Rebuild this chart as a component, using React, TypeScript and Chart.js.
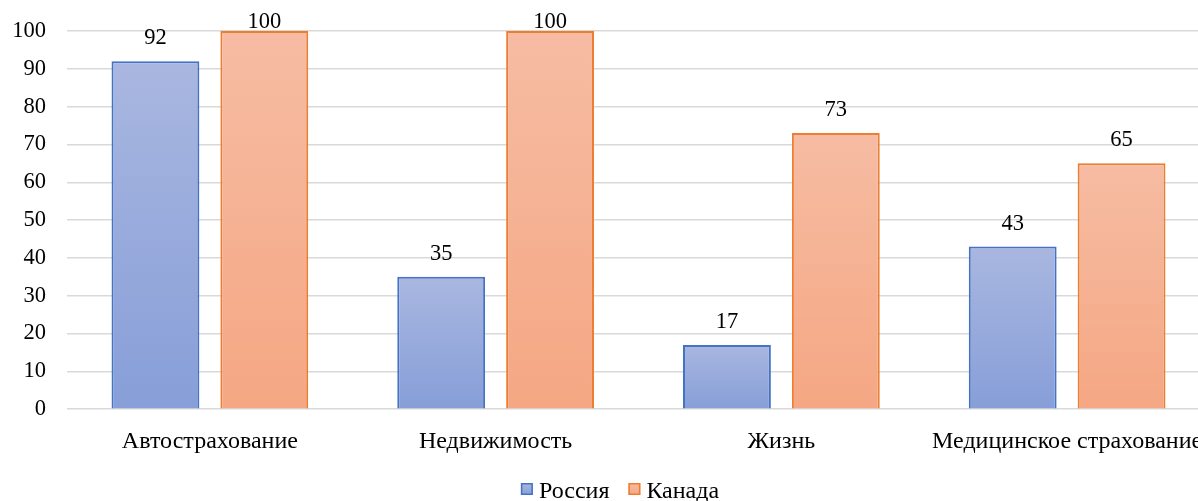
import React, { useEffect, useRef } from "react";
import { Chart, registerables } from "chart.js";

Chart.register(...registerables);

const categories = ["Автострахование", "Недвижимость", "Жизнь", "Медицинское страхование"];
const russiaValues = [92, 35, 17, 43];
const canadaValues = [100, 100, 73, 65];
const seriesNames = ["Россия", "Канада"];
const yTicks = [0, 10, 20, 30, 40, 50, 60, 70, 80, 90, 100];

const FONT = '"Liberation Serif", "Times New Roman", serif';
const NUM_SIZE = 22.5;
const TEXT_SIZE = 24;

const seriesStyle = [
  { top: "#A9B7E0", bottom: "#879ED8", mid: "#9AACDD", border: "#4472C4" },
  { top: "#F6BCA3", bottom: "#F5A783", mid: "#F5B496", border: "#ED7D31" },
];

function gradientFill(top: string, bottom: string, fallback: string) {
  return (ctx: any) => {
    const chart = ctx.chart;
    if (ctx.type !== "data" || !chart.chartArea || !chart.scales.y) return fallback;
    const y = chart.scales.y;
    const yTop = y.getPixelForValue(ctx.raw);
    const yBot = y.getPixelForValue(0);
    if (!isFinite(yTop) || !isFinite(yBot) || yTop === yBot) return fallback;
    const g = chart.ctx.createLinearGradient(0, yTop, 0, yBot);
    g.addColorStop(0, top);
    g.addColorStop(1, bottom);
    return g;
  };
}

const valueLabels = {
  id: "valueLabels",
  afterDatasetsDraw(chart: any) {
    const c = chart.ctx;
    c.save();
    c.font = `${NUM_SIZE}px ${FONT}`;
    c.fillStyle = "#000";
    c.textAlign = "center";
    c.textBaseline = "alphabetic";
    chart.data.datasets.forEach((ds: any, i: number) => {
      const meta = chart.getDatasetMeta(i);
      meta.data.forEach((el: any, j: number) => {
        const yPos = Math.max(el.y - 17, chart.chartArea.top - 3);
        c.fillText(String(ds.data[j]), el.x, yPos);
      });
    });
    c.restore();
  },
};

const bottomLegend = {
  id: "bottomLegend",
  afterDraw(chart: any) {
    const c = chart.ctx;
    c.save();
    c.font = `${TEXT_SIZE}px ${FONT}`;
    c.textBaseline = "alphabetic";
    c.textAlign = "left";
    const box = 12;
    const gapText = 6;
    const gapItem = 19;
    const items = chart.data.datasets.map((ds: any, i: number) => ({
      text: ds.label as string,
      w: c.measureText(ds.label).width,
      style: seriesStyle[i],
    }));
    let total = 0;
    items.forEach((it: any, i: number) => {
      total += box + gapText + it.w + (i < items.length - 1 ? gapItem : 0);
    });
    let x = chart.width / 2 - total / 2;
    const boxTop = 483;
    const baseline = 498;
    items.forEach((it: any) => {
      const g = c.createLinearGradient(0, boxTop, 0, boxTop + box);
      g.addColorStop(0, it.style.top);
      g.addColorStop(1, it.style.bottom);
      c.fillStyle = g;
      c.fillRect(x, boxTop, box, box);
      c.strokeStyle = it.style.border;
      c.lineWidth = 1.5;
      c.strokeRect(x + 0.75, boxTop + 0.75, box - 1.5, box - 1.5);
      x += box + gapText;
      c.fillStyle = "#000";
      c.fillText(it.text, x, baseline);
      x += it.w + gapItem;
    });
    c.restore();
  },
};

export default function App() {
  const ref = useRef<HTMLCanvasElement | null>(null);
  useEffect(() => {
    let chart: Chart | null = null;
    let cancelled = false;
    const make = () => {
      if (cancelled || !ref.current) return;
      chart = new Chart(ref.current, {
        type: "bar",
        data: {
          labels: categories,
          datasets: [
            {
              label: seriesNames[0],
              data: russiaValues,
              backgroundColor: gradientFill(seriesStyle[0].top, seriesStyle[0].bottom, seriesStyle[0].mid),
              borderColor: seriesStyle[0].border,
              borderWidth: 2,
              categoryPercentage: 0.762,
              barPercentage: 0.807,
            },
            {
              label: seriesNames[1],
              data: canadaValues,
              backgroundColor: gradientFill(seriesStyle[1].top, seriesStyle[1].bottom, seriesStyle[1].mid),
              borderColor: seriesStyle[1].border,
              borderWidth: 2,
              categoryPercentage: 0.762,
              barPercentage: 0.807,
            },
          ],
        },
        options: {
          animation: false,
          responsive: false,
          layout: { padding: { left: 12, right: 30, top: 31, bottom: 35 } },
          plugins: {
            tooltip: { enabled: false },
            legend: { display: false },
          },
          scales: {
            x: {
              grid: { display: false },
              border: { display: false },
              ticks: {
                font: { family: FONT, size: TEXT_SIZE },
                color: "#000",
                maxRotation: 0,
                autoSkip: false,
                padding: 10,
              },
            },
            y: {
              min: 0,
              max: 100,
              afterBuildTicks: (axis: any) => {
                axis.ticks = yTicks.map((v) => ({ value: v }));
              },
              afterFit: (axis: any) => {
                axis.width = 55;
                axis.paddingTop = 0;
                axis.paddingBottom = 0;
              },
              grid: { color: "#D9D9D9", lineWidth: 1.5, drawTicks: false },
              border: { display: false },
              ticks: {
                font: { family: FONT, size: NUM_SIZE },
                color: "#000",
                padding: 21,
              },
            },
          },
        },
        plugins: [valueLabels, bottomLegend],
      });
    };
    const fonts: any = (document as any).fonts;
    if (fonts && fonts.load) {
      Promise.all([fonts.load('22px "Liberation Serif"')]).then(make, make);
    } else {
      make();
    }
    return () => {
      cancelled = true;
      if (chart) chart.destroy();
    };
  }, []);
  return (
    <div style={{ position: "fixed", left: 0, top: 0, width: 1198, height: 501, overflow: "hidden", background: "#fff" }}>
      <canvas ref={ref} width={1240} height={501} style={{ width: 1240, height: 501, display: "block" }} />
    </div>
  );
}
